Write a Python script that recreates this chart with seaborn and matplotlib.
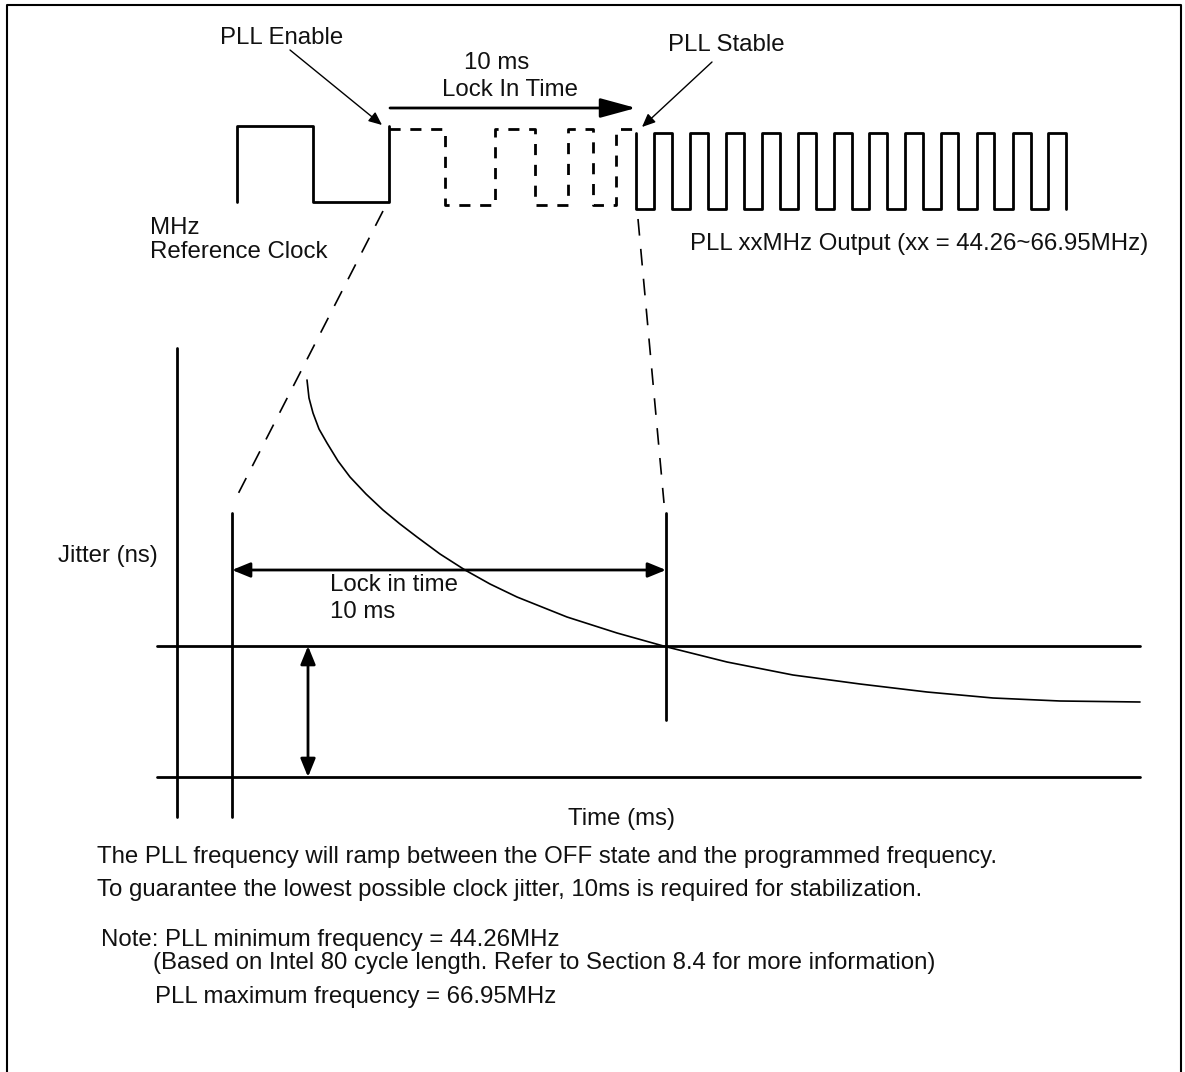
import matplotlib
matplotlib.use('Agg')
import matplotlib.pyplot as plt
import seaborn as sns

# PLL lock-in timing diagram, drawn in pixel coordinates of the original picture

# square wave edges (x, px) and their levels (y, px)
ref_edges = [237, 313, 389]
ref_levels = (126, 202)          # high, low
lock_edges = [445, 495, 535, 568, 593, 616]
lock_span = (389, 636)
lock_levels = (129, 205)
out_edges = [636, 654, 672, 690, 708, 726, 744, 762, 780, 798, 816, 834, 852,
             869, 887, 905, 923, 941, 958, 977, 994, 1013, 1031, 1048, 1066]
out_levels = (133, 209)

# jitter decay curve
jitter_x = [307, 309, 313, 319, 327, 338, 350, 366, 383, 400, 417, 440, 465, 490, 517,
            567, 617, 667, 727, 793, 860, 927, 993, 1060, 1140]
jitter_y = [380, 398, 413, 429, 443, 461, 477, 494, 510, 524, 537, 554, 570, 584, 597,
            617, 633, 647, 662, 675, 684, 692, 698, 701, 702]


def square_wave(edges, high, low, start_high, x0=None, x1=None):
    xs, ys = [], []
    level = high if start_high else low
    if x0 is not None:
        xs.append(x0); ys.append(level)
    for e in edges:
        xs.append(e); ys.append(level)
        level = low if level == high else high
        xs.append(e); ys.append(level)
    if x1 is not None:
        xs.append(x1); ys.append(level)
    return xs, ys


sns.set_theme(style='white')
plt.rcParams['font.family'] = ['Liberation Sans', 'DejaVu Sans']

fig = plt.figure(figsize=(11.85, 10.72), dpi=100)
ax = fig.add_axes([0, 0, 1, 1])

# Waveforms
x, y = square_wave(ref_edges, *ref_levels, start_high=False)
sns.lineplot(x=x, y=y, sort=False, estimator=None, color='black', lw=2, ax=ax)

x, y = square_wave(lock_edges, *lock_levels, start_high=True, x0=lock_span[0], x1=lock_span[1])
sns.lineplot(x=x, y=y, sort=False, estimator=None, color='black', lw=2,
             linestyle=(0, (4, 3.5)), ax=ax)

x, y = square_wave(out_edges, *out_levels, start_high=True, x0=out_edges[0])
sns.lineplot(x=x, y=y, sort=False, estimator=None, color='black', lw=2, ax=ax)

# Jitter curve
sns.lineplot(x=jitter_x, y=jitter_y, sort=False, estimator=None, color='black', lw=1.2, ax=ax)

# Projection dashed lines
ax.plot([383, 237], [211, 496], color='black', lw=1.2, linestyle=(0, (10, 8)))
ax.plot([638, 664], [219, 503], color='black', lw=1.2, linestyle=(0, (10, 8)))

# Axes-like lines of the lower diagram
ax.plot([177, 177], [348, 817], color='black', lw=2)
ax.plot([232, 232], [513, 817], color='black', lw=2)
ax.plot([666, 666], [513, 720], color='black', lw=2)
ax.plot([157, 1140], [646, 646], color='black', lw=2)
ax.plot([157, 1140], [777, 777], color='black', lw=2)

# Arrows
ax.annotate('', xy=(636, 108), xytext=(390, 108),
            arrowprops=dict(arrowstyle='-|>,head_length=2.2,head_width=0.6', mutation_scale=10,
                            lw=2, color='black', shrinkA=0, shrinkB=0))
ax.annotate('', xy=(382, 125), xytext=(290, 50),
            arrowprops=dict(arrowstyle='-|>,head_length=0.8,head_width=0.35', mutation_scale=10,
                            lw=1, color='black', shrinkA=0, shrinkB=0))
ax.annotate('', xy=(642, 127), xytext=(712, 62),
            arrowprops=dict(arrowstyle='-|>,head_length=0.8,head_width=0.35', mutation_scale=10,
                            lw=1, color='black', shrinkA=0, shrinkB=0))
ax.annotate('', xy=(666, 570), xytext=(232, 570),
            arrowprops=dict(arrowstyle='<|-|>,head_length=1.1,head_width=0.45', mutation_scale=10,
                            lw=2, color='black', shrinkA=0, shrinkB=0))
ax.annotate('', xy=(308, 777), xytext=(308, 646),
            arrowprops=dict(arrowstyle='<|-|>,head_length=1.1,head_width=0.45', mutation_scale=10,
                            lw=2, color='black', shrinkA=0, shrinkB=0))

# Border
ax.plot([7, 7, 1181, 1181], [1072, 5, 5, 1072], color='black', lw=1.5)

# Labels
fs = 17.3
tc = '#111111'
labels = [
    (220, 38, 'PLL Enable', 'left'),
    (497, 63, '10 ms', 'center'),
    (510, 90, 'Lock In Time', 'center'),
    (668, 45, 'PLL Stable', 'left'),
    (150, 228, 'MHz', 'left'),
    (150, 252, 'Reference Clock', 'left'),
    (690, 244, 'PLL xxMHz Output (xx = 44.26~66.95MHz)', 'left'),
    (58, 556, 'Jitter (ns)', 'left'),
    (330, 585, 'Lock in time', 'left'),
    (330, 612, '10 ms', 'left'),
    (568, 819, 'Time (ms)', 'left'),
    (97, 857, 'The PLL frequency will ramp between the OFF state and the programmed frequency.', 'left'),
    (97, 890, 'To guarantee the lowest possible clock jitter, 10ms is required for stabilization.', 'left'),
    (101, 940, 'Note: PLL minimum frequency = 44.26MHz', 'left'),
    (153, 963, '(Based on Intel 80 cycle length. Refer to Section 8.4 for more information)', 'left'),
    (155, 997, 'PLL maximum frequency = 66.95MHz', 'left'),
]
for lx, ly, txt, ha in labels:
    ax.text(lx, ly, txt, ha=ha, va='center', fontsize=fs, color=tc)

ax.set_xlim(0, 1185)
ax.set_ylim(1072, 0)
ax.axis('off')

plt.savefig('out.png', dpi=100)
plt.close()
